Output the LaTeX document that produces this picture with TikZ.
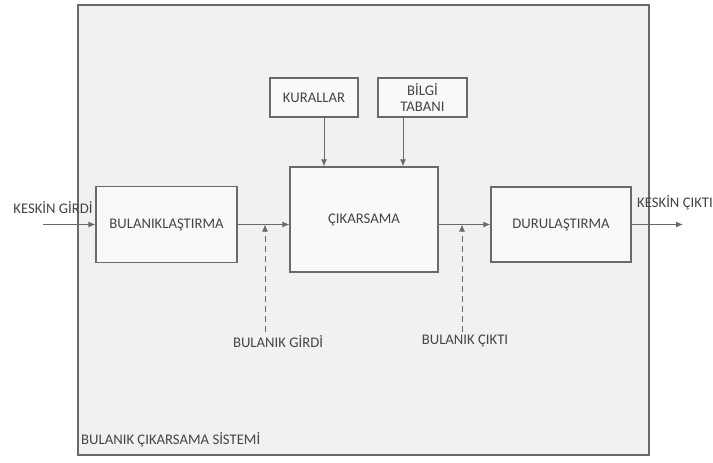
\documentclass[tikz,border=0pt]{standalone}
\usepackage{fontspec}
\setmainfont{Carlito}
\usepackage{tikz}
\usetikzlibrary{positioning, arrows.meta}
\definecolor{linie}{HTML}{6A6A6A}
\definecolor{schrift}{HTML}{454545}
\definecolor{grund}{HTML}{F1F1F1}
\tikzset{
    blockbox/.style = {draw=linie, line width=1.2pt, fill=white!60!grund, align=center,
                       inner sep=2pt, font=\fontsize{14.7}{16}\selectfont, text=schrift},
    huelle/.style   = {draw=linie, line width=1.5pt, fill=grund},
    link/.style     = {-{Latex[length=7pt, width=6pt]}, draw=linie, line width=1pt},
    fuzzy/.style    = {link, dash pattern=on 6pt off 4pt},
    beschr/.style   = {font=\fontsize{14.7}{16}\selectfont, text=schrift, inner sep=1pt}
}

\begin{document}
\begin{tikzpicture}[x=1pt, y=-1pt]
        \useasboundingbox (0,0) rectangle (713,463);

        % --- System ---
        \node[huelle, minimum width=571pt, minimum height=450pt] (sys) at (363.5,230) {};
        \node[beschr, anchor=west] (sysname) at (80,440) {BULANIK ÇIKARSAMA SİSTEMİ};

        % --- Bloecke ---
        \node[blockbox, minimum width=141pt, minimum height=76pt]  (bul) at (166.5,224.5) {BULANIKLAŞTIRMA};
        \node[blockbox, minimum width=148pt, minimum height=105pt] (cik) at (364,219.5)   {ÇIKARSAMA};
        \node[blockbox, minimum width=140pt, minimum height=75pt]  (dur) at (561,224.5)   {DURULAŞTIRMA};
        \node[blockbox, minimum width=88pt, minimum height=39pt]   (kur) at (314,97.5)    {KURALLAR};
        \node[blockbox, minimum width=89pt, minimum height=39pt]   (bil) at (422.5,97.5)  {BİLGİ\\TABANI};

        \draw[link] ([xshift=10pt]kur.south) -- ([xshift=10pt]kur.south |- cik.north);
        \draw[link] ([xshift=-19.5pt]bil.south) -- ([xshift=-19.5pt]bil.south |- cik.north);
        \draw[link] (bul.east) -- (bul.east -| cik.west);
        \draw[link] (cik.east |- dur.west) -- (dur.west);

        % --- Ein- und Ausgang ---
        \coordinate (ein) at (43,224.5);
        \coordinate (aus) at (683,224.5);
        \draw[link] (ein) -- (bul.west);
        \draw[link] (dur.east) -- (aus);
        \node[beschr] (keing) at (53,208) {KESKİN GİRDİ};
        \node[beschr] (kausg) at (675,203) {KESKİN ÇIKTI};

        % --- unscharfe Groessen ---
        \coordinate (bg) at (265,332);
        \coordinate (bc) at (462,332);
        \draw[fuzzy] (bg) -- (bg |- bul.east);
        \draw[fuzzy] (bc) -- (bc |- dur.west);
        \node[beschr, below=2pt of bg, xshift=13pt] (bgirdi) {BULANIK GİRDİ};
        \node[beschr, below=2pt of bc, xshift=3pt]  (bcikti) {BULANIK ÇIKTI};
    \end{tikzpicture}
\end{document}
